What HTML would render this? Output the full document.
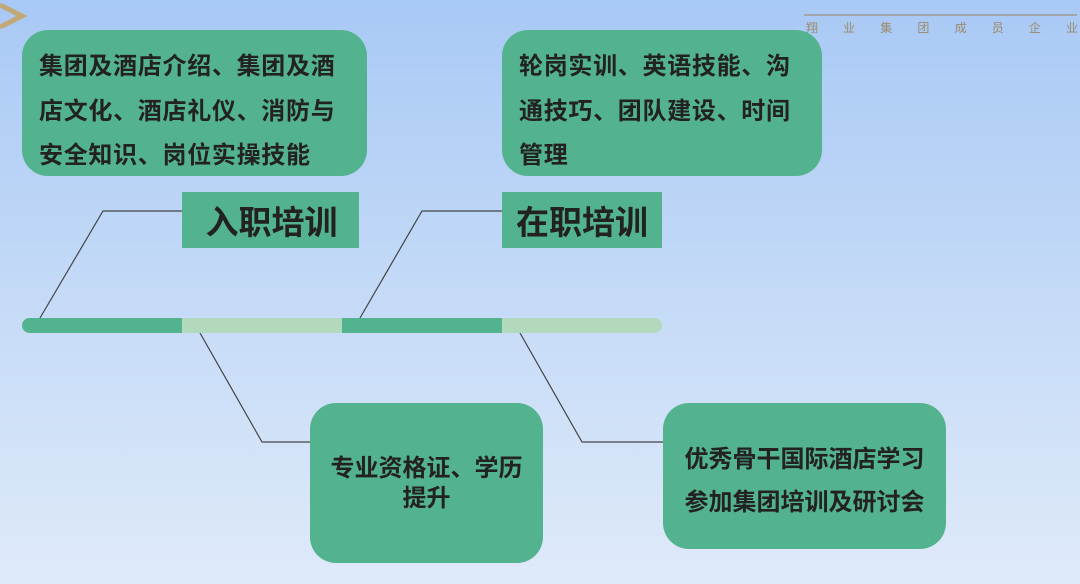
<!DOCTYPE html>
<html><head><meta charset="utf-8"><style>
*{margin:0;padding:0;box-sizing:border-box}
body{width:1080px;height:584px;overflow:hidden;position:relative;background:linear-gradient(180deg,#a8c9f5 0%,#c4daf7 50%,#dfeaf9 100%);font-family:"Liberation Sans","Noto Sans CJK SC",sans-serif;color:#222}
.b{position:absolute;background:#54b38f;font-weight:bold;white-space:nowrap}
.r{border-radius:26px}
.t{position:absolute;background:#54b38f;font-weight:bold;font-size:33px;display:flex;align-items:center;justify-content:center}
</style></head><body>
<svg width="1080" height="584" style="position:absolute;left:0;top:0">
<polyline points="0,5 22,16 0,27" fill="none" stroke="#c3a877" stroke-width="5"/>
<line x1="804" y1="15" x2="1077" y2="15" stroke="#a09a94" stroke-width="1.5"/>
<g stroke="#444" stroke-width="1.2" fill="none">
<polyline points="40,318 103,211 182,211"/>
<polyline points="360,318 422,211 502,211"/>
<polyline points="200,333 262,442 310,442"/>
<polyline points="520,333 582,442 663,442"/>
</g>
<rect x="22" y="318" width="640" height="15" rx="7.5" fill="#b3d9bc"/>
<path d="M29.5,318 H182 V333 H29.5 A7.5,7.5 0 0 1 29.5,318Z" fill="#54b38f"/>
<rect x="342" y="318" width="160" height="15" fill="#54b38f"/>
</svg>
<div style="position:absolute;left:806px;top:19px;width:272px;display:flex;justify-content:space-between;font-size:12px;color:#9a8a6a">
<span>翔</span><span>业</span><span>集</span><span>团</span><span>成</span><span>员</span><span>企</span><span>业</span></div>
<div class="b r" style="left:22px;top:30px;width:345px;height:146px;padding:15px 0 0 17px;font-size:24px;letter-spacing:0.7px;line-height:44.5px">集团及酒店介绍、集团及酒<br>店文化、酒店礼仪、消防与<br>安全知识、岗位实操技能</div>
<div class="b r" style="left:502px;top:30px;width:320px;height:146px;padding:15px 0 0 17px;font-size:24px;letter-spacing:0.7px;line-height:44.5px">轮岗实训、英语技能、沟<br>通技巧、团队建设、时间<br>管理</div>
<div class="t" style="left:182px;top:192px;width:177px;height:56px;padding-left:2px">入职培训</div>
<div class="t" style="left:502px;top:192px;width:160px;height:56px;justify-content:flex-start;padding-left:14px">在职培训</div>
<div class="b r" style="left:310px;top:403px;width:233px;height:160px;text-align:center;font-size:24px;line-height:30px;padding-top:51px">专业资格证、学历<br>提升</div>
<div class="b r" style="left:663px;top:403px;width:283px;height:146px;text-align:center;font-size:24px;line-height:43px;padding-top:35px">优秀骨干国际酒店学习<br>参加集团培训及研讨会</div>
</body></html>
